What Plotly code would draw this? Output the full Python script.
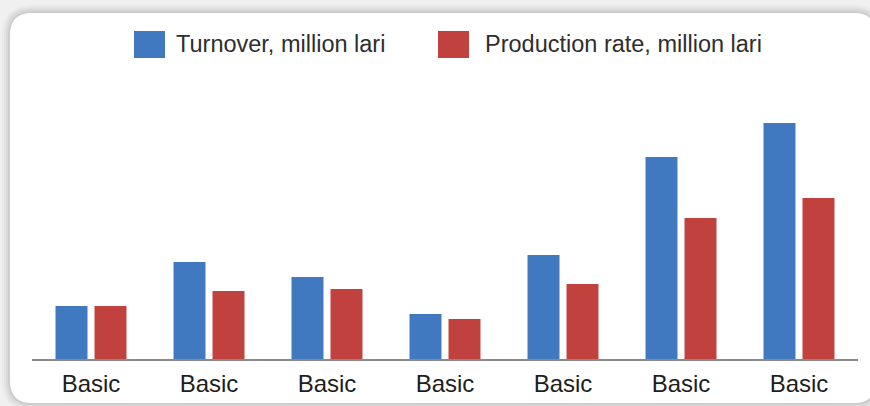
import plotly.graph_objects as go

categories = ["Basic"] * 7
series_names = ["Turnover, million lari", "Production rate, million lari"]
turnover = [53, 97, 82, 45, 104, 202, 236]
production = [53, 68, 70, 40, 75, 141, 161]
colors = ["#4179c0", "#c0413d"]

W, H = 870, 406
L, R, T, B = 32, 858, 59, 359
YMAX = 300

def px(x):
    return (x - L) / (R - L)

def py(y):
    return (B - y) / (B - T)

def rounded(x0, y0, x1, y1, r):
    a, b, c, d = px(x0), px(x1), py(y0), py(y1)
    rx = r / (R - L)
    ry = r / (B - T)
    return (f"M {a+rx},{c} L {b-rx},{c} Q {b},{c} {b},{c-ry} "
            f"L {b},{d+ry} Q {b},{d} {b-rx},{d} L {a+rx},{d} "
            f"Q {a},{d} {a},{d+ry} L {a},{c-ry} Q {a},{c} {a+rx},{c} Z")

xs = list(range(len(categories)))
fig = go.Figure()
for name, vals, col in zip(series_names, [turnover, production], colors):
    fig.add_trace(go.Bar(x=xs, y=vals, name=name, marker=dict(color=col, line=dict(width=0)),
                         showlegend=False))

shapes = []
# soft shadow layers
for grow, op in [(8, 0.025), (6, 0.03), (4, 0.04), (2, 0.05)]:
    shapes.append(dict(type="path", xref="paper", yref="paper", layer="below",
                       path=rounded(10 - grow, 13 - grow, 876 + grow, 403 + grow, 22 + grow),
                       fillcolor=f"rgba(0,0,0,{op})", line=dict(width=0)))
shapes.append(dict(type="path", xref="paper", yref="paper", layer="below",
                   path=rounded(10, 13, 876, 403, 22), fillcolor="#ffffff", line=dict(width=0)))

FONT = "Liberation Sans, Arial, Helvetica, sans-serif"
annotations = []
legend_pos = [(134, 174), (438, 483)]
for (sx, tx), name, col in zip(legend_pos, series_names, colors):
    shapes.append(dict(type="rect", xref="paper", yref="paper",
                       x0=px(sx), x1=px(sx + 31), y0=py(58), y1=py(31),
                       fillcolor=col, line=dict(width=0)))
    annotations.append(dict(x=px(tx), y=py(44), xref="paper", yref="paper",
                            xanchor="left", yanchor="middle", text=name, showarrow=False,
                            font=dict(family=FONT, size=23.5, color="#2e2e2e")))

fig.update_layout(
    width=W, height=H,
    margin=dict(l=L, r=W - R, t=T, b=H - B, pad=0, autoexpand=False),
    paper_bgcolor="#f0f0f0", plot_bgcolor="rgba(0,0,0,0)",
    barmode="group", bargap=0.339, bargroupgap=0.18,
    shapes=shapes, annotations=annotations,
    xaxis=dict(tickmode="array", tickvals=xs, ticktext=categories, range=[-0.5, 6.5],
               showline=True, linecolor="#8a8a8a", linewidth=1.5, showgrid=False, zeroline=False,
               automargin=False,
               ticks="outside", ticklen=2, tickcolor="rgba(0,0,0,0)",
               tickfont=dict(family=FONT, size=24, color="#1e1e1e")),
    yaxis=dict(range=[0, YMAX], visible=False, showgrid=False, zeroline=False, automargin=False),
)
fig.write_html("out.html")
